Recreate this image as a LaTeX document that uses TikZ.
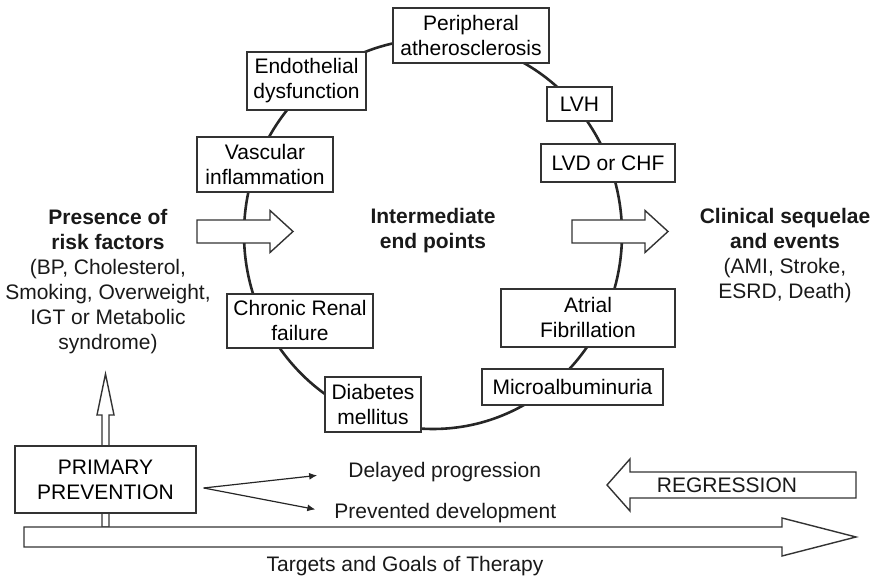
\documentclass[tikz,border=0pt]{standalone}
\usepackage{fontspec}
\setmainfont{Liberation Sans}
\usetikzlibrary{positioning, arrows.meta}
\tikzset{
	stagebox/.style={draw=black!80, fill=white, line width=0.7pt, align=center, inner sep=0pt, font=\fontsize{10.5}{12.5}\selectfont}
}
\tikzset{
	plaintext/.style={align=center, inner sep=0pt, text=black!90, font=\fontsize{10.5}{12.5}\selectfont}
}
\tikzset{
	blockarrow/.style={draw=black!80, fill=white, line width=0.7pt}
}

\begin{document}
\begin{tikzpicture}[x=0.5pt, y=-0.5pt]
      \useasboundingbox (0,0) rectangle (879,581);
      % ring of intermediate end points
      \draw[line width=1.3pt, black!85] (433,234) ellipse [x radius=189, y radius=195];
      \foreach \name/\x/\y/\w/\h/\txt in {periph/471/35.5/156/55/{Peripheral\\atherosclerosis}, endo/306.5/81/119/58/{Endothelial\\dysfunction}, lvh/579.5/104/65/34/LVH, vasc/265/164.5/136/55/{Vascular\\inflammation}, lvd/608/163/134/38/{LVD or CHF}, renal/300/321/146/54/{Chronic Renal\\failure}, afib/588/318/174/58/{Atrial\\Fibrillation}, diab/373/404.5/96/55/{Diabetes\\mellitus}, micro/572.5/387/181/36/Microalbuminuria} {
        \node[stagebox, minimum width=\w*0.5pt, minimum height=\h*0.5pt] (\name) at (\x,\y) {\txt};
      }
      \foreach \xa in {197,572} {
        \draw[blockarrow] (\xa,220) -- ++(73,0) -- ++(0,-9.5) -- ++(23,21) -- ++(-23,21) -- ++(0,-9.5) -- ++(-73,0) -- cycle;
      }
      \node[plaintext] (risk) at (108,281.5) {\textbf{Presence of}\\\textbf{risk factors}\\(BP, Cholesterol,\\Smoking, Overweight,\\IGT or Metabolic\\syndrome)};
      \node[plaintext] (mid) at (433,230.5) {\textbf{Intermediate}\\\textbf{end points}};
      \node[plaintext] (clin) at (785,255.5) {\textbf{Clinical sequelae}\\\textbf{and events}\\(AMI, Stroke,\\ESRD, Death)};
      % bottom part: prevention, regression, therapy
      \draw[blockarrow] (102,527) -- (102,415) -- (97,415) -- (105.5,374) -- (114,415) -- (109,415) -- (109,527) -- cycle;
      \node[stagebox, minimum width=181*0.5pt, minimum height=67*0.5pt] (prim) at (105.5,479.5) {PRIMARY\\PREVENTION};
      \draw[blockarrow] (24,527) -- (782,527) -- (782,518) -- (856,537) -- (782,556) -- (782,547) -- (24,547) -- cycle;
      \draw[blockarrow] (856,472) -- (630,472) -- (630,459) -- (607,485) -- (630,511) -- (630,498) -- (856,498) -- cycle;
      \node[plaintext] (regr) at (727,485) {REGRESSION};
      \node[plaintext, anchor=west] (delayed) at (348,472) {Delayed progression};
      \node[plaintext, anchor=west] (prevented) at (334,513) {Prevented development};
      \node[plaintext] (goals) at (405,566) {Targets and Goals of Therapy};
      \coordinate (fork) at ([xshift=3.5pt, yshift=-4.25pt]prim.east);
      \draw[-{Latex[length=4pt, width=3.5pt]}, line width=0.6pt, black!85, shorten >=15.5pt] (fork) -- (delayed.west);
      \draw[-{Latex[length=4pt, width=3.5pt]}, line width=0.6pt, black!85, shorten >=9.5pt] (fork) -- (prevented.west);
    \end{tikzpicture}
\end{document}
